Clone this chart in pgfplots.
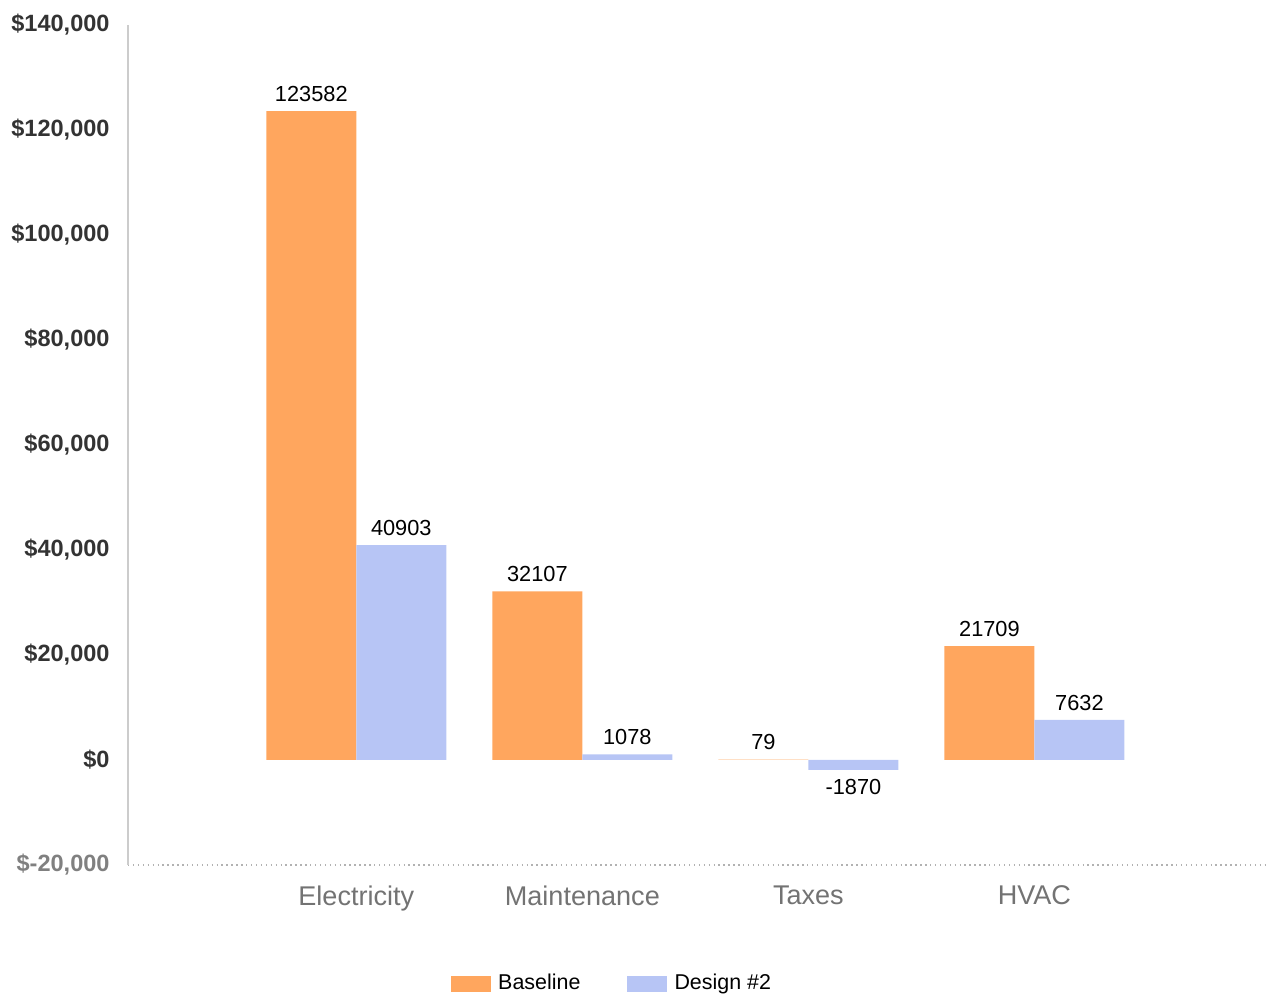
\documentclass[border=0pt]{standalone}
\usepackage{fontspec}
\setmainfont{Liberation Sans}
\usepackage{pgfplots}
\pgfplotsset{compat=1.18}
\definecolor{baseor}{HTML}{FFA65E}
\definecolor{desbl}{HTML}{B7C5F5}
\begin{document}
\begin{tikzpicture}
\begin{axis}[
  name=ax,
  scale only axis,
  width=11.37cm, height=8.4cm,
  xmin=-1.01, xmax=4.02,
  ymin=-20000, ymax=140000,
  ytick={-20000,0,20000,40000,60000,80000,100000,120000,140000},
  yticklabels={{\color{black!50}\$-20,000},{\$0},{\$20,000},{\$40,000},{\$60,000},{\$80,000},{\$100,000},{\$120,000},{\$140,000}},
  yticklabel style={font=\bfseries\fontsize{6.7}{8}\selectfont, color=black!80, xshift=-0.6mm, inner ysep=0.5pt},
  xtick={0,1,2,3},
  xticklabels={Electricity,Maintenance,Taxes,HVAC},
  xticklabel style={font=\fontsize{7.7}{9}\selectfont, color=black!55, yshift=-0.8mm},
  major tick length=0pt,
  axis x line*=bottom,
  axis y line*=left,
  x axis line style={black!30, densely dotted},
  y axis line style={black!20},
  ybar=0pt,
  bar width=0.9cm,
  nodes near coords,
  point meta=explicit symbolic,
  nodes near coords style={font=\fontsize{6.2}{7}\selectfont, color=black, inner sep=2.5pt},
  coordinate style/.condition={\pgfkeysvalueof{/data point/y}<0}{anchor=north},
  legend style={at={(0.428,-0.142)}, anchor=center, draw=none, legend columns=2,
    font=\fontsize{6.1}{7}\selectfont,
    /tikz/every even column/.append style={column sep=0.4cm}},
  legend image code/.code={\fill[#1] (0cm,-0.08cm) rectangle (0.4cm,0.08cm);},
]
\addplot[fill=baseor, draw=none] coordinates {(0,123582) [123582] (1,32107) [32107] (2,79) [79] (3,21709) [21709]};
\addplot[fill=desbl, draw=none] coordinates {(0,40903) [40903] (1,1078) [1078] (2,-1870) [{-1870}] (3,7632) [7632]};
\legend{Baseline, Design \#2}
\end{axis}
\pgfresetboundingbox
\path[use as bounding box] ([xshift=-1.28cm,yshift=-1.35cm]ax.south west) rectangle ([xshift=0.02cm,yshift=0.25cm]ax.north east);
\end{tikzpicture}
\end{document}
